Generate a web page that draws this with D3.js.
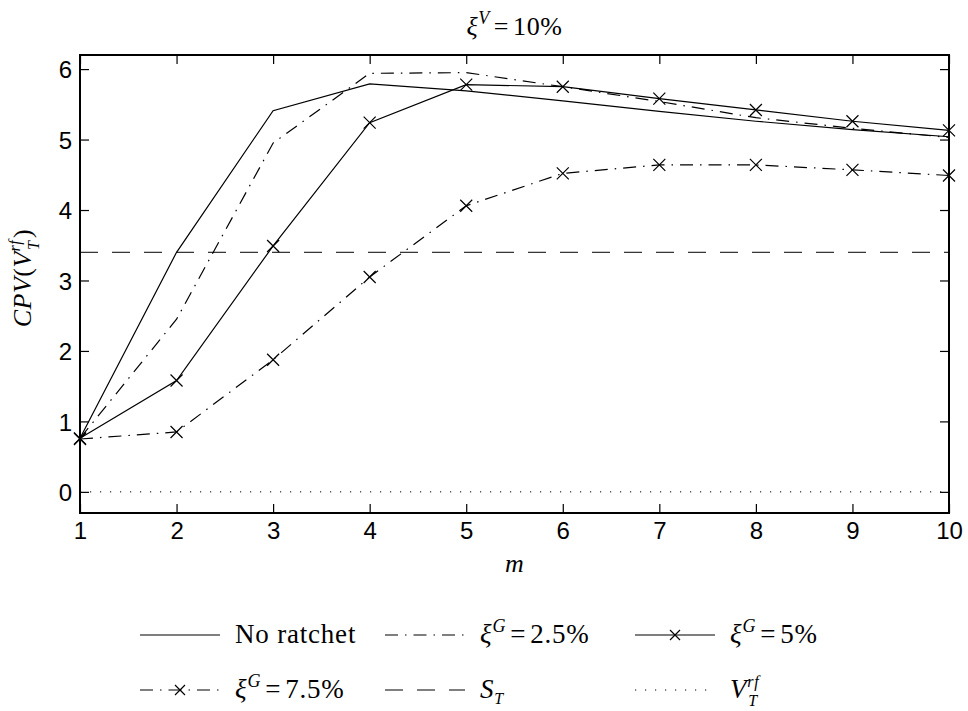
<!DOCTYPE html>
<html><head><meta charset="utf-8">
<script src="https://d3js.org/d3.v7.min.js"></script>
<style>body{margin:0;background:#fff}svg{display:block}</style>
</head><body>
<svg id="c" width="968" height="711"></svg>
<script>
const mValues = [1,2,3,4,5,6,7,8,9,10];
const noRatchet = [0.76, 3.40, 5.41, 5.79, 5.69, 5.55, 5.40, 5.26, 5.14, 5.04];
const xiG25 = [0.76, 2.45, 4.95, 5.94, 5.95, 5.75, 5.54, 5.31, 5.16, 5.03];
const xiG5 = [0.76, 1.58, 3.49, 5.24, 5.78, 5.75, 5.58, 5.42, 5.26, 5.13];
const xiG75 = [0.75, 0.85, 1.875, 3.05, 4.06, 4.52, 4.64, 4.64, 4.57, 4.49];
const ST = 3.4;
const Vrf = 0;
const xTicks = [1,2,3,4,5,6,7,8,9,10];
const yTicks = [0,1,2,3,4,5,6];

const svg = d3.select("#c");
const L = 80, R = 949, T = 55, B = 513;
const x = d3.scaleLinear().domain([1,10]).range([L,R]);
const y = d3.scaleLinear().domain([-0.3,6.2]).range([B,T]);

const DASHDOT = "13,7,1.5,7", DASH = "18,14", DOT = "1.2,8.8";
const serif = "'Liberation Serif', 'Times New Roman', serif";

// axes box with inward ticks
const g = svg.append("g");
const tickFont = "Liberation Sans, Arial, sans-serif";
const xb = g.append("g").attr("transform",`translate(0,${B})`)
  .call(d3.axisBottom(x).tickValues(xTicks).tickSize(-9).tickPadding(9).tickFormat(d3.format("d")));
const xt = g.append("g").attr("transform",`translate(0,${T})`)
  .call(d3.axisTop(x).tickValues(xTicks).tickSize(-9).tickFormat(""));
const yl = g.append("g").attr("transform",`translate(${L},0)`)
  .call(d3.axisLeft(y).tickValues(yTicks).tickSize(-9).tickPadding(8).tickFormat(d3.format("d")));
const yr = g.append("g").attr("transform",`translate(${R},0)`)
  .call(d3.axisRight(y).tickValues(yTicks).tickSize(-9).tickFormat(""));
[xb,xt,yl,yr].forEach(a=>{
  a.selectAll(".domain").remove();
  a.selectAll("line").attr("stroke","#000").attr("stroke-width",1.2);
  a.selectAll("text").attr("font-family",tickFont).attr("font-size",24).attr("fill","#000");
});
xb.selectAll("text").attr("dy","0.71em");
yl.selectAll("text").attr("dy","0.36em");

// reference lines
const lineH = (val, dash) => svg.append("line")
  .attr("x1",x(1)).attr("x2",x(10)).attr("y1",y(val)).attr("y2",y(val))
  .attr("stroke","#000").attr("stroke-width",1).attr("stroke-dasharray",dash);
lineH(ST, DASH);
lineH(Vrf, DOT);

const line = d3.line().x((d,i)=>x(mValues[i])).y(d=>y(d));
const series = [
  {vals:noRatchet, dash:null, marker:false},
  {vals:xiG25, dash:DASHDOT, marker:false},
  {vals:xiG5, dash:null, marker:true},
  {vals:xiG75, dash:DASHDOT, marker:true}
];
const crossPath = (cx,cy,s)=>`M${cx-s},${cy-s}L${cx+s},${cy+s}M${cx-s},${cy+s}L${cx+s},${cy-s}`;
series.forEach(s=>{
  svg.append("path").attr("d",line(s.vals)).attr("fill","none").attr("stroke","#000")
    .attr("stroke-width",1.2).attr("stroke-dasharray",s.dash);
  if(s.marker){
    svg.append("g").selectAll("path").data(s.vals).join("path")
      .attr("d",(d,i)=>crossPath(x(mValues[i]),y(d),6))
      .attr("stroke","#000").attr("stroke-width",1.2).attr("fill","none");
  }
});

// frame
svg.append("rect").attr("x",L).attr("y",T).attr("width",R-L).attr("height",B-T)
  .attr("fill","none").attr("stroke","#000").attr("stroke-width",2);

// rich text helper
function rich(sel, parts){
  parts.forEach(p=>{
    const t = sel.append("tspan").text(p.t);
    if(p.i) t.attr("font-style","italic");
    if(p.s) t.attr("font-size",p.s);
    if(p.dy!==undefined) t.attr("dy",p.dy);
    if(p.dx!==undefined) t.attr("dx",p.dx);
  });
  return sel;
}
const xiLabel = (sup, rest) => [
  {t:"ξ",i:1},{t:sup,i:1,s:18,dy:-11},{t:"=",dy:11,dx:4},{t:rest,dx:4}
];
const vrf = [{t:"V",i:1},{t:"T",i:1,s:16,dy:8,dx:1},{t:"rf",i:1,s:16,dy:-19,dx:-10}];

// title
rich(svg.append("text").attr("x",(L+R)/2).attr("y",35).attr("text-anchor","middle")
  .attr("font-family",serif).attr("font-size",26).attr("letter-spacing",0.6),
  xiLabel("V","10%"));

// x label
svg.append("text").attr("x",(L+R)/2).attr("y",572).attr("text-anchor","middle")
  .attr("font-family",serif).attr("font-size",26).attr("font-style","italic").text("m");

// y label
rich(svg.append("text").attr("transform","translate(31,278) rotate(-90)").attr("text-anchor","middle")
  .attr("font-family",serif).attr("font-size",26).attr("letter-spacing",0.5),
  [{t:"CPV",i:1},{t:"("},...vrf,{t:")",dy:11,dx:2}]);

// legend
const legend = [
  {col:140,row:635,dash:null,marker:false,label:[{t:"No ratchet"}]},
  {col:385,row:635,dash:DASHDOT,marker:false,label:xiLabel("G","2.5%")},
  {col:635,row:635,dash:null,marker:true,label:xiLabel("G","5%")},
  {col:140,row:690,dash:DASHDOT,marker:true,label:xiLabel("G","7.5%")},
  {col:385,row:690,dash:DASH,marker:false,label:[{t:"S",i:1},{t:"T",i:1,s:16,dy:6}]},
  {col:635,row:690,dash:DOT,marker:false,label:vrf}
];
legend.forEach(l=>{
  svg.append("line").attr("x1",l.col).attr("x2",l.col+80).attr("y1",l.row).attr("y2",l.row)
    .attr("stroke","#000").attr("stroke-width",1.2).attr("stroke-dasharray",l.dash);
  if(l.marker) svg.append("path").attr("d",crossPath(l.col+40,l.row,5)).attr("stroke","#000").attr("stroke-width",1.2);
  rich(svg.append("text").attr("x",l.col+95).attr("y",l.row+8)
    .attr("font-family",serif).attr("font-size",27).attr("letter-spacing",0.8), l.label);
});
</script>
</body></html>
